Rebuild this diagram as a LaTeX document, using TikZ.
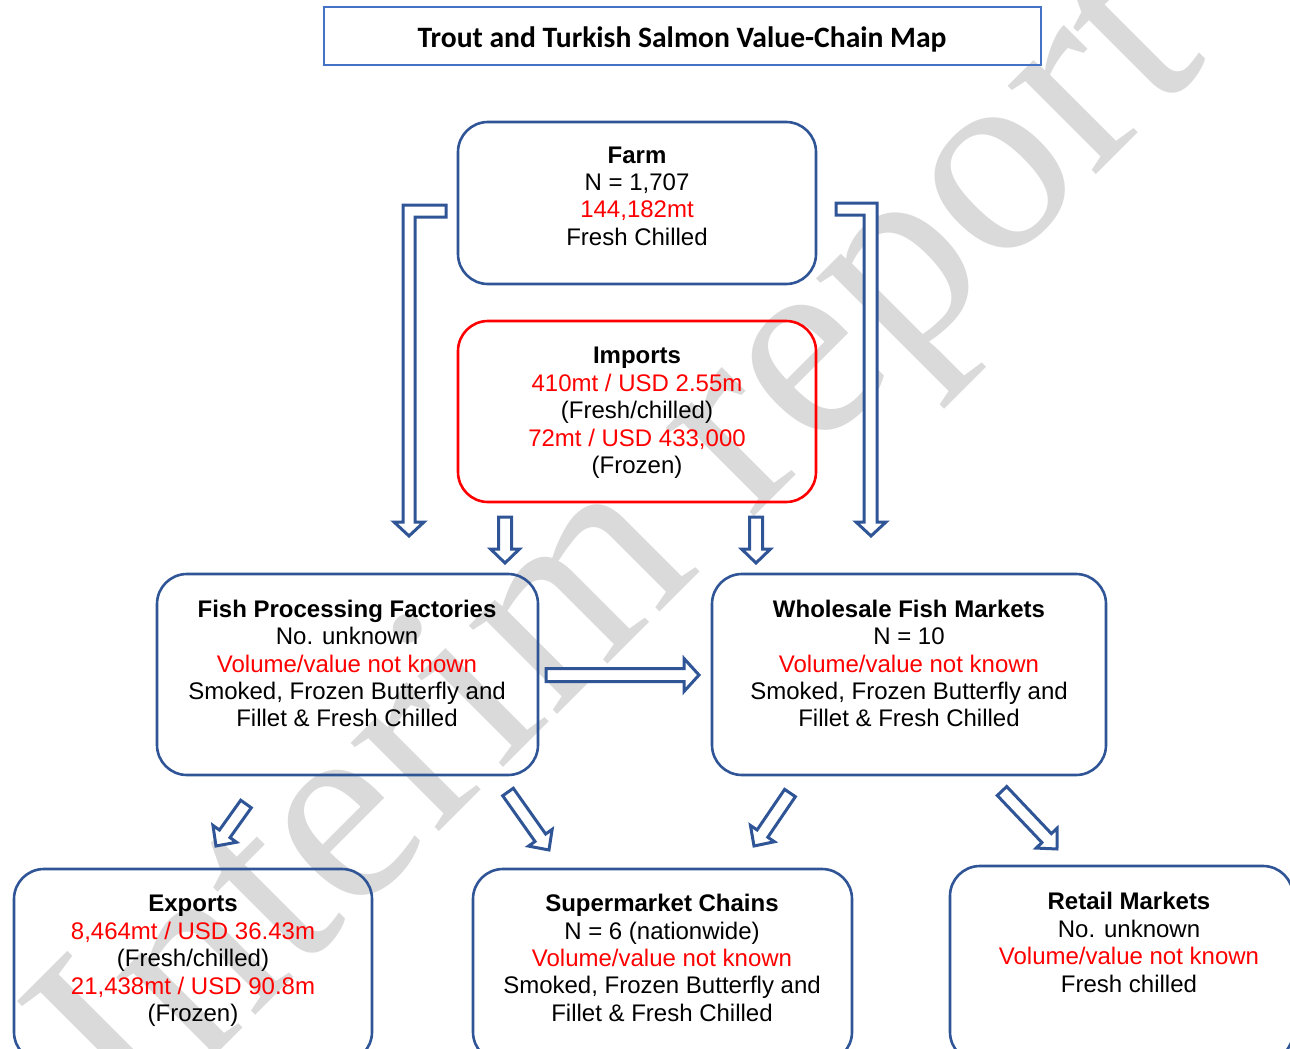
\documentclass[tikz,border=0pt]{standalone}
\usepackage{fontspec}
\setmainfont{Liberation Sans}
\newfontfamily\headfont{Carlito}
\newfontfamily\markfont{Liberation Serif}
\usetikzlibrary{calc}

\definecolor{boxblue}{RGB}{47,85,151}
\definecolor{titleblue}{RGB}{68,114,196}
\definecolor{valred}{RGB}{255,0,0}
\definecolor{markgrey}{RGB}{218,218,218}

\newcommand{\val}[1]{\textcolor{valred}{#1}}

% block arrow between two named coordinates
\newcommand{\blockarrow}[5]{% tail, tip, shaft half-width, head half-width, head length
  \draw[flowarrow] let \p1=(#1), \p2=(#2),
      \n1={atan2(\y2-\y1,\x2-\x1)},
      \n2={veclen(\x2-\x1,\y2-\y1)} in
    [shift={(\p1)}, rotate=\n1]
    (0pt,#3pt) -- ({\n2-#5pt},#3pt) -- ({\n2-#5pt},#4pt) -- (\n2,0pt)
    -- ({\n2-#5pt},-#4pt) -- ({\n2-#5pt},-#3pt) -- (0pt,-#3pt) -- cycle;
}

\tikzset{
  stage/.style={draw=boxblue, line width=2.6pt, rounded corners=30pt, inner sep=0pt},
  infobox/.style={draw=valred, line width=2.6pt, rounded corners=30pt, inner sep=0pt},
  body/.style={align=center, inner sep=0pt, font=\fontsize{24}{27.4}\selectfont},
  flowarrow/.style={draw=boxblue, line width=3pt, fill=white, line join=miter},
}

\begin{document}
\begin{tikzpicture}[x=1pt,y=-1pt]
\useasboundingbox (0,0) rectangle (1290,1049);
\clip (0,0) rectangle (1290,1049);

% watermark
\node[text=markgrey, rotate=45, inner sep=0pt,
      font=\markfont\fontsize{272}{272}\selectfont] (mark) at (630,555) {Interim report};

% title
\node[draw=titleblue, line width=2.4pt, minimum width=717pt, minimum height=58pt,
      inner sep=0pt] (title) at (682.5,36) {};
\node[inner sep=0pt, font=\headfont\bfseries\fontsize{29.6}{33}\selectfont] (titletext)
      at (682,39) {Trout and Turkish Salmon Value-Chain Map};

% boxes
\node[stage, minimum width=358pt, minimum height=162pt] (farm) at (637,203) {};
\node[infobox, minimum width=358pt, minimum height=181pt] (imports) at (637,411.5) {};
\node[stage, minimum width=381pt, minimum height=201pt] (proc) at (347.5,674.5) {};
\node[stage, minimum width=394pt, minimum height=201pt] (whole) at (909,674.5) {};
\node[stage, minimum width=358pt, minimum height=193pt] (exports) at (193,965.5) {};
\node[stage, minimum width=379pt, minimum height=193pt] (super) at (662.5,965.5) {};
\node[stage, minimum width=343pt, minimum height=196pt] (retail) at (1121.5,964) {};

% box texts
\node[body] (farmtext) at (637,196) {\textbf{Farm}\\N = 1,707\\\val{144,182mt}\\Fresh Chilled};
\node[body] (importstext) at (637,413) {\textbf{Imports}\\\val{410mt / USD 2.55m}\\(Fresh/chilled)\\\val{72mt / USD 433,000}\\(Frozen)};
\node[body] (proctext) at (347,663.5) {\textbf{Fish Processing Factories}\\No. unknown\\\val{Volume/value not known}\\Smoked, Frozen Butterfly and\\Fillet \& Fresh Chilled};
\node[body] (wholetext) at (909,663.5) {\textbf{Wholesale Fish Markets}\\N = 10\\\val{Volume/value not known}\\Smoked, Frozen Butterfly and\\Fillet \& Fresh Chilled};
\node[body] (exportstext) at (193,961) {\textbf{Exports}\\\val{8,464mt / USD 36.43m}\\(Fresh/chilled)\\\val{21,438mt / USD 90.8m}\\(Frozen)};
\node[body] (supertext) at (662,958) {\textbf{Supermarket Chains}\\N = 6 (nationwide)\\\val{Volume/value not known}\\Smoked, Frozen Butterfly and\\Fillet \& Fresh Chilled};
\node[body] (retailtext) at (1129,942.5) {\textbf{Retail Markets}\\No. unknown\\\val{Volume/value not known}\\Fresh chilled};

% bent arrows from the farm
\coordinate (farmL) at (446,211);
\coordinate (farmR) at (836,209);
\draw[flowarrow] (farmL) ++(0,-6) -- (403,205) -- (403,522) -- (394,522) -- (409,536)
  -- (424,522) -- (415,522) -- (415,217) -- (446,217) -- cycle;
\draw[flowarrow] (farmR) ++(0,-6) -- (877,203) -- (877,522) -- (886,522) -- (871,536)
  -- (856,522) -- (864,522) -- (864,215) -- (836,215) -- cycle;

% arrow anchors
\coordinate (impA) at (505,517);
\coordinate (procIn) at (505,563);
\coordinate (impB) at (756,517);
\coordinate (wholeIn) at (756,563);
\coordinate (procOut) at (546,675);
\coordinate (wholeSide) at (699,675);
\coordinate (procD1) at (246,804);
\coordinate (exportsIn) at (216,846);
\coordinate (procD2) at (508,792);
\coordinate (superInA) at (549,850);
\coordinate (wholeD1) at (790,793);
\coordinate (superInB) at (754,846);
\coordinate (wholeD2) at (1002,791);
\coordinate (retailIn) at (1057,849);

\blockarrow{impA}{procIn}{6.5}{14.5}{14}
\blockarrow{impB}{wholeIn}{6.5}{14.5}{14}
\blockarrow{procOut}{wholeSide}{6.5}{16.5}{15}
\blockarrow{procD1}{exportsIn}{6.5}{14.5}{15}
\blockarrow{procD2}{superInA}{6.5}{14.5}{15}
\blockarrow{wholeD1}{superInB}{6.5}{14.5}{15}
\blockarrow{wholeD2}{retailIn}{6.5}{14.5}{15}
\end{tikzpicture}
\end{document}
